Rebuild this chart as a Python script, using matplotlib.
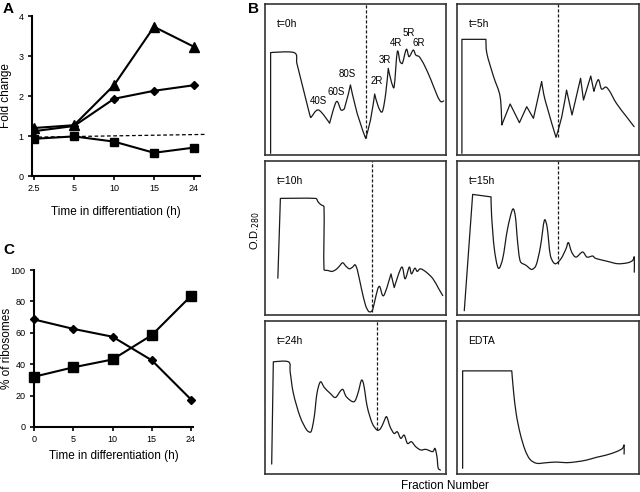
import matplotlib
matplotlib.use("Agg")
import matplotlib.pyplot as plt
import numpy as np
from matplotlib.path import Path
from matplotlib.patches import PathPatch

plt.rcParams['font.family'] = ['Liberation Sans', 'DejaVu Sans']

# ---------------- Panel A data ----------------
a_times = ['2.5', '5', '10', '15', '24']
a_triangle = [1.20, 1.27, 2.27, 3.73, 3.23]
a_diamond = [1.12, 1.25, 1.93, 2.13, 2.27]
a_square = [0.93, 0.99, 0.86, 0.58, 0.71]
a_ref_x = [-0.05, 4.28]
a_ref_y = [0.97, 1.04]

# ---------------- Panel C data ----------------
c_times = ['0', '5', '10', '15', '24']
c_diamond = [68.5, 62.5, 57.5, 42.5, 17.5]
c_square = [32.0, 38.0, 43.0, 58.5, 83.5]

# ---------------- Panel B profiles (fraction %, OD %) ----------------
t0_x = [3.1, 3.1, 16.1, 17.6, 21.3, 25.0, 25.4, 29.6, 35.7, 39.4, 42.0, 43.9, 47.2, 50.9, 55.6,
        58.3, 60.6, 62.6, 64.8, 66.7, 68.1, 69.8, 71.3, 73.1, 74.6, 75.9, 78.1, 79.6, 81.9, 83.3,
        85.2, 88.0, 91.7, 95.4, 97.2, 98.7]
t0_y = [1.1, 67.8, 67.8, 60.7, 43.0, 25.4, 24.9, 29.8, 21.0, 35.3, 29.8, 30.9, 46.4, 27.6, 11.0,
        23.2, 40.4, 32.0, 28.7, 40.8, 57.4, 48.6, 44.8, 68.4, 61.8, 60.7, 70.0, 65.1, 69.5, 66.2,
        65.1, 59.6, 49.7, 38.6, 35.3, 35.8]
t0_labels = ['40S', '60S', '80S', '2R', '3R', '4R', '5R', '6R']
t0_label_x = [29.5, 39.4, 45.4, 61.6, 66.1, 72.2, 79.6, 84.8]
t0_label_y = [32.5, 38.5, 50.5, 45.5, 59.5, 71.0, 77.5, 71.0]

t5_x = [2.7, 2.7, 15.9, 16.4, 20.1, 23.7, 24.6, 29.2, 34.3, 38.3, 42.0, 46.5, 48.4, 54.4,
        57.5, 60.2, 63.2, 67.9, 69.5, 73.5, 75.2, 77.6, 79.4, 81.8, 83.9, 87.6, 93.1, 97.3]
t5_y = [1.1, 76.6, 76.6, 67.3, 51.9, 38.6, 19.9, 33.8, 21.4, 32.0, 24.3, 48.6, 36.4, 11.7,
        25.0, 43.0, 26.5, 50.8, 36.4, 52.3, 42.2, 49.9, 43.7, 45.0, 42.2, 34.2, 25.4, 18.8]

t10_x = [7.1, 8.5, 27.9, 29.3, 30.8, 32.6, 32.6, 34.8, 37.0, 39.3, 41.1, 42.9, 44.7, 46.6, 48.4,
         49.8, 51.1, 53.3, 55.6, 57.4, 59.2, 60.5, 62.3, 63.4, 65.6, 69.6, 71.4, 75.5, 77.4,
         79.7, 80.9, 82.8, 84.1, 85.9, 89.1, 92.8, 96.0, 98.2]
t10_y = [23.9, 75.7, 75.7, 73.5, 71.7, 70.2, 29.6, 28.9, 28.3, 29.6, 31.7, 33.9, 31.7, 30.0, 31.1,
         32.6, 28.9, 17.0, 6.1, 2.2, 2.8, 8.3, 17.0, 18.5, 12.6, 26.7, 17.8, 31.1, 23.5,
         31.1, 26.7, 30.4, 28.3, 30.0, 27.8, 23.5, 17.0, 12.6]

t15_x = [4.0, 8.6, 18.7, 19.0, 20.5, 22.7, 25.1, 27.8, 30.6, 32.1, 33.3, 34.8, 38.0, 41.0, 43.4,
         45.8, 48.0, 49.5, 51.3, 53.8, 57.1, 59.9, 61.2, 63.0, 65.4, 69.0, 71.4, 74.5, 75.8,
         78.2, 82.8, 88.3, 93.8, 96.5, 97.4, 97.4]
t15_y = [2.8, 78.3, 76.7, 64.8, 43.0, 30.4, 36.5, 56.1, 68.7, 63.7, 47.4, 34.8, 32.2, 29.6, 32.2,
         44.1, 61.5, 57.2, 38.7, 33.3, 36.5, 43.0, 47.0, 40.9, 37.6, 40.9, 37.6, 38.3, 37.0,
         36.1, 34.8, 33.3, 33.9, 35.4, 37.6, 27.8]

t24_x = [3.7, 4.6, 13.0, 13.9, 15.7, 19.4, 23.1, 25.4, 27.2, 28.7, 30.6, 32.8, 36.1, 38.9, 41.7,
         43.1, 45.0, 49.1, 51.3, 53.3, 54.6, 56.5, 59.3, 62.0, 63.9, 65.7, 67.2, 69.1, 71.3,
         73.1, 75.0, 76.9, 78.7, 80.9, 83.3, 86.1, 88.9, 92.6, 93.9, 95.0, 95.7, 96.9]
t24_y = [6.5, 73.3, 73.3, 66.7, 52.6, 37.4, 28.7, 27.6, 37.4, 52.6, 60.2, 56.5, 52.6, 50.0, 54.3,
         55.2, 50.4, 47.2, 52.6, 61.3, 58.0, 43.9, 33.0, 28.7, 29.8, 34.3, 37.4, 30.9, 26.5,
         27.6, 23.3, 25.4, 20.0, 21.1, 17.8, 15.7, 16.1, 14.6, 16.7, 11.3, 3.7, 2.6]

edta_x = [3.1, 3.1, 30.1, 31.0, 32.5, 34.7, 37.4, 40.1, 43.8, 49.3, 54.7, 60.2, 65.7, 71.2,
          76.6, 82.1, 87.6, 90.9, 91.8, 91.8]
edta_y = [3.7, 67.4, 67.4, 54.8, 39.6, 26.5, 15.7, 9.6, 7.0, 7.4, 7.8, 7.4, 8.0, 9.1,
          10.9, 12.4, 14.6, 16.7, 18.9, 13.0]

panel_titles = ['t=0h', 't=5h', 't=10h', 't=15h', 't=24h', 'EDTA']
divider_x = [55.9, 55.7, 58.9, 55.3, 62.0, None]
divider_bottom = [11.0, 11.7, 2.2, 33.3, 28.7, None]

W, H = 640, 492
fig = plt.figure(figsize=(W / 100, H / 100), dpi=100)


def px_axes(l, t, r, b):
    return fig.add_axes([l / W, 1 - b / H, (r - l) / W, (b - t) / H])


def smooth_path(xs, ys, sx=1.8, sy=1.5):
    """Bezier path through the read points; sharp corners kept where both
    neighbouring segments are long and the direction changes strongly."""
    p = np.column_stack([xs, ys]).astype(float)
    q = p * np.array([sx, sy])  # approx. pixel proportions
    n = len(p)
    tang = np.zeros_like(p)
    for i in range(1, n - 1):
        a = q[i] - q[i - 1]
        b = q[i + 1] - q[i]
        la, lb = np.hypot(*a), np.hypot(*b)
        if la == 0 or lb == 0:
            continue
        cosang = np.dot(a, b) / (la * lb)
        if cosang < 0.5 and min(la, lb) > 12:
            continue  # corner
        tang[i] = 0.5 * (p[i + 1] - p[i - 1])
    verts = [p[0]]
    codes = [Path.MOVETO]
    for i in range(n - 1):
        L = np.hypot(*(p[i + 1] - p[i]))
        t0 = tang[i] / 3.0
        t1 = tang[i + 1] / 3.0
        for tv in (t0, t1):
            tl = np.hypot(*tv)
            if tl > 0 and tl > L * 0.4:
                tv *= (L * 0.4) / tl
        verts += [p[i] + t0, p[i + 1] - t1, p[i + 1]]
        codes += [Path.CURVE4] * 3
    return Path(verts, codes)


LW = 1.5
TICKFS = 6.5
LABFS = 8.5

# ---------------- Panel A ----------------
axA = px_axes(32, 16, 200, 176)
xa = list(range(len(a_times)))
axA.plot(a_ref_x, a_ref_y, ls=(0, (3, 2)), color='black', lw=0.9, clip_on=False)
axA.plot(xa, a_triangle, '-^', color='black', lw=LW, ms=7)
axA.plot(xa, a_diamond, '-D', color='black', lw=LW, ms=4.5)
axA.plot(xa, a_square, '-s', color='black', lw=LW, ms=6)
axA.set_xlim(-0.05, 4.15)
axA.set_ylim(0, 4)
axA.set_xticks(xa)
axA.set_xticklabels(a_times)
axA.set_yticks([0, 1, 2, 3, 4])
axA.set_ylabel('Fold change', fontsize=LABFS)
axA.yaxis.set_label_coords(-0.122, 0.5)
axA.set_xlabel('Time in differentiation (h)', fontsize=LABFS, labelpad=9)

# ---------------- Panel C ----------------
axC = px_axes(34, 270, 193, 427)
xc = list(range(len(c_times)))
axC.plot(xc, c_diamond, '-D', color='black', lw=LW, ms=4.5, clip_on=False, zorder=3)
axC.plot(xc, c_square, '-s', color='black', lw=LW, ms=6.5, clip_on=False, zorder=3)
axC.set_xlim(0, 4.05)
axC.set_ylim(0, 100)
axC.set_xticks(xc)
axC.set_xticklabels(c_times)
axC.set_yticks([0, 20, 40, 60, 80, 100])
axC.set_ylabel('% of ribosomes', fontsize=LABFS)
axC.yaxis.set_label_coords(-0.135, 0.5)
axC.set_xlabel('Time in differentiation (h)', fontsize=LABFS, labelpad=4)

for ax in (axA, axC):
    for s in ('top', 'right'):
        ax.spines[s].set_visible(False)
    for s in ('left', 'bottom'):
        ax.spines[s].set_linewidth(1.5)
    ax.tick_params(direction='out', length=3, width=1.2, labelsize=TICKFS, pad=3)

# ---------------- Panel B ----------------
cols = [(265, 446), (457, 639)]
rows = [(4, 155), (161, 315), (321, 474)]
traces = [(t0_x, t0_y), (t5_x, t5_y), (t10_x, t10_y), (t15_x, t15_y), (t24_x, t24_y),
          (edta_x, edta_y)]
for i, (tx, ty) in enumerate(traces):
    r, c = divmod(i, 2)
    l, rr = cols[c]
    t, b = rows[r]
    ax = px_axes(l, t, rr, b)
    ax.add_patch(PathPatch(smooth_path(tx, ty), facecolor='none', edgecolor='#1a1a1a',
                           lw=0.9, capstyle='round', joinstyle='round'))
    if divider_x[i] is not None:
        ax.plot([divider_x[i], divider_x[i]], [divider_bottom[i], 100],
                ls=(0, (2.5, 1.5)), color='#1a1a1a', lw=0.9)
    ax.text(6.3, 87, panel_titles[i], fontsize=7.5, ha='left', va='center')
    if i == 0:
        for lab, lx, ly in zip(t0_labels, t0_label_x, t0_label_y):
            ax.text(lx, ly, lab, fontsize=7, ha='center', va='bottom')
    ax.set_xlim(0, 100)
    ax.set_ylim(0, 100)
    ax.set_xticks([])
    ax.set_yticks([])
    for s in ax.spines.values():
        s.set_linewidth(1.2)
        s.set_color('#333333')

fig.text(255 / W, 1 - 230 / H, 'O.D.$_{280}$', rotation=90, fontsize=8,
         ha='center', va='center')
fig.text(445 / W, 1 - 486 / H, 'Fraction Number', fontsize=8.5, ha='center', va='center')

# Panel letters
fig.text(3 / W, 1 - 9 / H, 'A', fontsize=11, fontweight='bold', ha='left', va='center')
fig.text(248 / W, 1 - 9 / H, 'B', fontsize=11, fontweight='bold', ha='left', va='center')
fig.text(3 / W, 1 - 250 / H, 'C', fontsize=11, fontweight='bold', ha='left', va='center')

fig.savefig('out.png', dpi=100)
